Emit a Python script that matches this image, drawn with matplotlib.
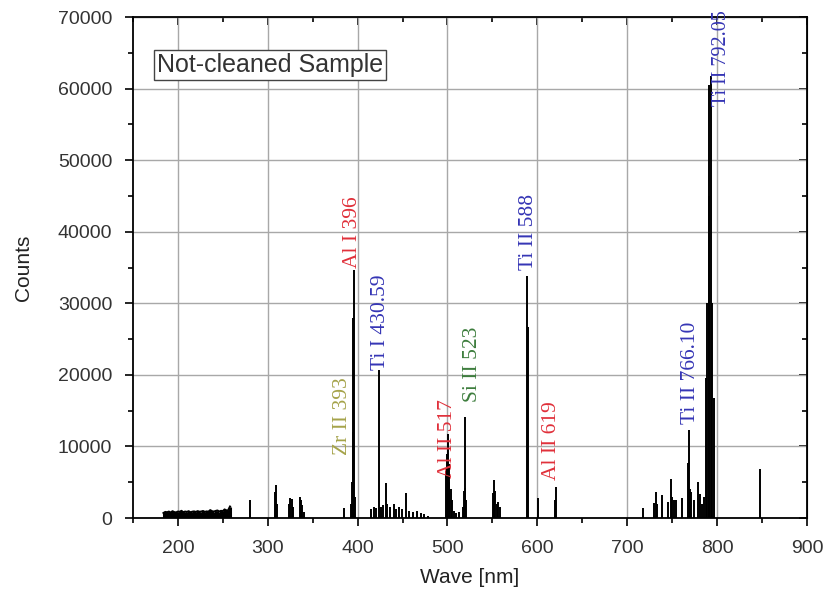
import matplotlib.pyplot as plt
from matplotlib.ticker import MultipleLocator

# low-level continuum 184-258 nm
noise_wl = [184, 186, 188, 190, 192, 194, 196, 198, 200, 202, 204, 206, 208,
            210, 212, 214, 216, 218, 220, 222, 224, 226, 228, 230, 232, 234,
            236, 238, 240, 242, 244, 246, 248, 250, 252, 254, 256, 258]
noise_counts = [700, 850, 800, 900, 750, 950, 820, 780, 900, 860, 1000, 800,
                900, 850, 950, 780, 880, 920, 840, 960, 870, 900, 980, 850,
                920, 880, 1100, 950, 900, 980, 1050, 900, 1000, 950, 1200,
                1000, 1100, 1600]

# emission lines
peak_wl = [280.3, 308.5, 309.6, 310.5, 323.5, 324.8, 326.5, 328, 335.5, 336.8,
           338.5, 340, 384.4, 392.5, 393.4, 394.4, 395.2, 396.2, 397,
           415, 418, 420, 423.7, 426, 428, 431.4, 433, 436, 440, 443, 446,
           449, 453.7, 457, 462, 466, 470, 474, 478,
           498.5, 499.5, 500.4, 501.3, 502.2, 503.5, 505, 507, 510, 513,
           517, 518, 519.2, 520, 521, 551, 551.8, 553, 555, 556.5, 558,
           589.0, 589.6, 600.7, 619.5, 621,
           717.8, 729.6, 731.8, 733, 738.9, 745.2, 748.9, 750, 752.6, 754.8,
           761.1, 767.6, 768.4, 769.5, 771.1, 774, 778.9, 781.5, 783.3,
           785.5, 787.5, 788.9, 790.5, 791.5, 793.5, 794.5, 796.2, 848]
peak_counts = [2500, 3600, 4600, 2000, 2000, 2800, 2600, 1500, 2900, 2500,
               1800, 800, 1400, 2000, 5000, 28000, 12000, 34700, 3000,
               1200, 1600, 1400, 20700, 1500, 1800, 4900, 2000, 1500, 2000,
               1300, 1600, 1200, 3500, 1000, 800, 1000, 700, 500, 300,
               6500, 9000, 11700, 7500, 5000, 4000, 2500, 1000, 700, 800,
               1500, 3800, 14100, 4200, 2500, 3500, 5300, 3800, 2000, 2300,
               1500, 33800, 26700, 2800, 2500, 4300,
               1350, 2050, 3700, 2000, 3200, 2300, 5500, 3000, 2500, 2500,
               2750, 7700, 12300, 4000, 3700, 2500, 5100, 3400, 2000,
               3000, 19500, 30000, 60500, 45000, 61700, 30000, 16700, 6800]

# annotations: text, x position (nm), bottom (counts), colour, size
labels = ["Zr II 393", "Al I 396", "Ti I 430.59", "Al II 517", "Si II 523",
          "Ti II 588", "Al II 619", "Ti II 766.10", "Ti II 792.05"]
label_x = [383.5, 394.5, 426, 500, 527.5, 590.5, 615.5, 770, 805]
label_y = [8800, 35000, 20700, 5600, 16200, 34600, 5300, 13200, 57600]
label_col = ["#a5a34a", "#e0303a", "#3535b5", "#e0303a", "#3d7d3d",
             "#3535b5", "#e0303a", "#3535b5", "#3535b5"]
label_size = [15.5, 15.5, 15.5, 15.5, 15.5, 15.5, 15.5, 15.5, 14.5]

fig = plt.figure(figsize=(8.31, 5.97), dpi=100)
ax = fig.add_axes([0.160, 0.1323, 0.811, 0.8392])

ax.vlines(noise_wl, 0, noise_counts, color='black', lw=2.2)
ax.plot(noise_wl, noise_counts, color='black', lw=1.5)
ax.vlines(peak_wl, 0, peak_counts, color='black', lw=1.4)

for t, x, y, c, s in zip(labels, label_x, label_y, label_col, label_size):
    ax.text(x, y, t, rotation=90, color=c, fontsize=s,
            family='Liberation Serif', ha='center', va='bottom',
            clip_on=False)

ax.set_xlim(150, 900)
ax.set_ylim(0, 70000)
ax.xaxis.set_major_locator(MultipleLocator(100))
ax.xaxis.set_minor_locator(MultipleLocator(50))
ax.yaxis.set_major_locator(MultipleLocator(10000))
ax.yaxis.set_minor_locator(MultipleLocator(5000))
ax.grid(True, which='major', color='#a8a8a8', lw=1)
ax.set_axisbelow(True)
ax.tick_params(which='both', direction='out', labelsize=14, width=1.2)
ax.tick_params(axis='x', which='major', length=6, pad=10)
ax.tick_params(axis='y', which='major', length=6, pad=9)
ax.tick_params(which='minor', length=3.5)
for s in ax.spines.values():
    s.set_linewidth(1.3)

# mirrored inward ticks on top and right
top = ax.secondary_xaxis('top')
top.xaxis.set_major_locator(MultipleLocator(100))
top.xaxis.set_minor_locator(MultipleLocator(50))
top.tick_params(which='both', direction='in', labeltop=False, width=1.2)
top.tick_params(which='major', length=6)
top.tick_params(which='minor', length=3.5)
right = ax.secondary_yaxis('right')
right.yaxis.set_major_locator(MultipleLocator(10000))
right.yaxis.set_minor_locator(MultipleLocator(5000))
right.tick_params(which='both', direction='in', labelright=False, width=1.2)
right.tick_params(which='major', length=6)
right.tick_params(which='minor', length=3.5)

ax.set_xlabel('Wave [nm]', fontsize=15, family='Liberation Sans', labelpad=8,
              color='#222222')
ax.set_ylabel('Counts', fontsize=15, family='Liberation Sans', labelpad=18,
              color='#222222')
for lab in ax.get_xticklabels() + ax.get_yticklabels():
    lab.set_family('Liberation Sans')
    lab.set_color('#333333')

ax.text(0.036, 0.905, 'Not-cleaned Sample', transform=ax.transAxes,
        fontsize=18, family='Liberation Sans', color='#333333',
        va='center', ha='left',
        bbox=dict(boxstyle='square,pad=0.12', fc='white', ec='#444444', lw=1))

fig.savefig('out.png', dpi=100)
